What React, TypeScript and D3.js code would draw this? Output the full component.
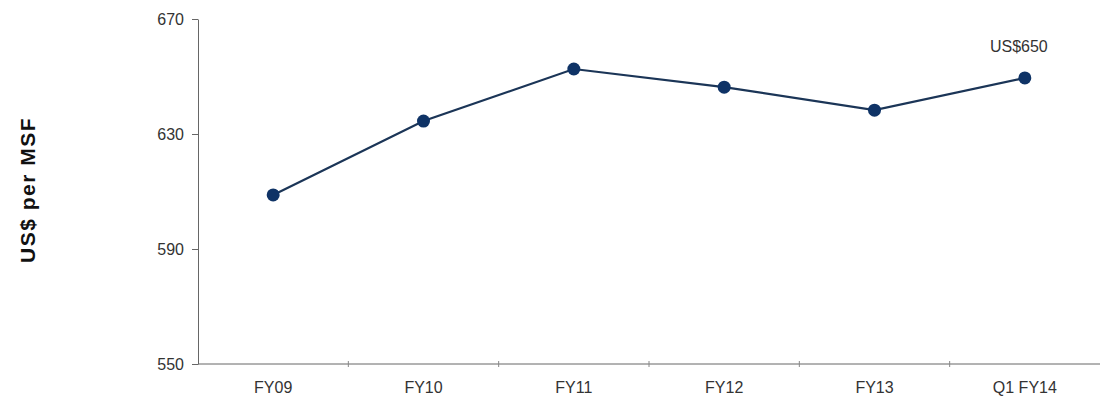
import React, { useRef, useEffect } from "react";
import * as d3 from "d3";

const categories = ["FY09", "FY10", "FY11", "FY12", "FY13", "Q1 FY14"];
const values = [608.8, 634.5, 652.6, 646.3, 638.3, 649.5];
const yTicks = [550, 590, 630, 670];
const lastLabel = "US$650";

export default function App() {
  const svgRef = useRef<SVGSVGElement>(null);

  useEffect(() => {
    if (!svgRef.current) return;
    const svg = d3.select(svgRef.current);
    svg.selectAll("*").remove();

    const width = 1101;
    const height = 402;
    const margin = { top: 19, right: 1, bottom: 38, left: 198 };
    const innerW = width - margin.left - margin.right;
    const innerH = height - margin.top - margin.bottom;

    const g = svg.append("g").attr("transform", `translate(${margin.left},${margin.top})`);

    const x = d3.scaleBand().domain(categories).range([0, innerW]);
    const y = d3.scaleLinear().domain([550, 670]).range([innerH, 0]);

    const font = "Arial, 'Liberation Sans', sans-serif";

    // y axis
    const yAxis = g
      .append("g")
      .call(d3.axisLeft(y).tickValues(yTicks).tickSize(6).tickSizeOuter(0).tickPadding(8));
    yAxis.select(".domain").attr("stroke", "#666");
    yAxis.selectAll("line").attr("stroke", "#666");
    yAxis
      .selectAll("text")
      .attr("fill", "#333")
      .style("font-size", "16px")
      .style("font-family", font);

    // x axis: ticks at band boundaries
    const xAxis = g.append("g").attr("transform", `translate(0,${innerH})`);
    xAxis
      .append("line")
      .attr("x1", 0)
      .attr("x2", innerW)
      .attr("stroke", "#666");
    xAxis
      .selectAll(".xt")
      .data(categories.slice(1))
      .enter()
      .append("line")
      .attr("x1", (d) => x(d)!)
      .attr("x2", (d) => x(d)!)
      .attr("y1", -3)
      .attr("y2", 3)
      .attr("stroke", "#888");
    xAxis
      .selectAll(".xl")
      .data(categories)
      .enter()
      .append("text")
      .attr("x", (d) => x(d)! + x.bandwidth() / 2)
      .attr("y", 29)
      .attr("text-anchor", "middle")
      .attr("fill", "#333")
      .style("font-size", "16px")
      .style("font-family", font)
      .text((d) => d);

    const pts = categories.map((c, i) => ({ c, v: values[i] }));

    const line = d3
      .line<{ c: string; v: number }>()
      .x((d) => x(d.c)! + x.bandwidth() / 2)
      .y((d) => y(d.v));

    g.append("path")
      .datum(pts)
      .attr("d", line)
      .attr("fill", "none")
      .attr("stroke", "#1b3557")
      .attr("stroke-width", 2.2);

    g.selectAll(".pt")
      .data(pts)
      .enter()
      .append("circle")
      .attr("cx", (d) => x(d.c)! + x.bandwidth() / 2)
      .attr("cy", (d) => y(d.v))
      .attr("r", 6.5)
      .attr("fill", "#0f3366");

    const last = pts[pts.length - 1];
    g.append("text")
      .attr("x", x(last.c)! + x.bandwidth() / 2 - 6)
      .attr("y", y(last.v) - 26)
      .attr("text-anchor", "middle")
      .attr("fill", "#333")
      .style("font-size", "16px")
      .style("font-family", font)
      .text(lastLabel);

    // y title
    svg
      .append("text")
      .attr("transform", `translate(35,190) rotate(-90)`)
      .attr("text-anchor", "middle")
      .attr("fill", "#111")
      .style("font-size", "21px")
      .style("font-weight", "bold")
      .style("letter-spacing", "1.5px")
      .style("font-family", font)
      .text("US$ per MSF");
  }, []);

  return (
    <svg
      ref={svgRef}
      width={1101}
      height={402}
      style={{ position: "absolute", left: 0, top: 0, background: "#fff" }}
    />
  );
}
